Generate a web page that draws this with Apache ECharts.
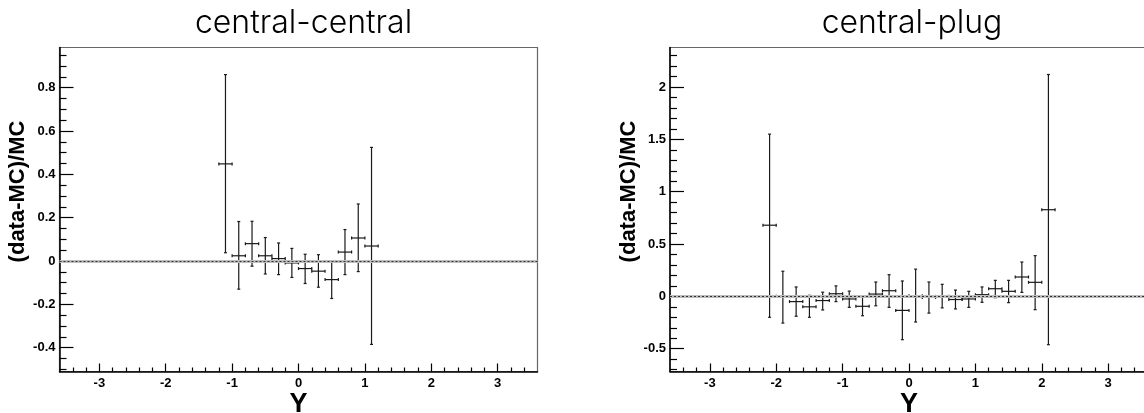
<!DOCTYPE html>
<html>
<head>
<meta charset="utf-8">
<script src="https://cdn.jsdelivr.net/npm/echarts@6/dist/echarts.min.js"></script>
<style>
  html, body { margin: 0; padding: 0; background: #fff; }
  #chart { width: 1144px; height: 413px; }
</style>
</head>
<body>
<div id="chart"></div>
<script>
// ---------- data ----------
const titles = ['central-central', 'central-plug'];
const xTitle = 'Y';
const yTitle = '(data-MC)/MC';
const binHalfWidth = 0.1;

// central-central
const ccX    = [-1.1, -0.9, -0.7, -0.5, -0.3, -0.1, 0.1, 0.3, 0.5, 0.7, 0.9, 1.1];
const ccY    = [0.448, 0.024, 0.080, 0.024, 0.011, -0.009, -0.035, -0.047, -0.086, 0.041, 0.106, 0.069];
const ccLow  = [0.038, -0.130, -0.024, -0.060, -0.063, -0.076, -0.104, -0.121, -0.173, -0.063, -0.049, -0.385];
const ccHigh = [0.860, 0.182, 0.183, 0.108, 0.083, 0.058, 0.031, 0.029, 0.000, 0.145, 0.263, 0.524];

// central-plug
const cpX    = [-2.1, -1.9, -1.7, -1.5, -1.3, -1.1, -0.9, -0.7, -0.5, -0.3, -0.1, 0.1, 0.3, 0.5, 0.7, 0.9, 1.1, 1.3, 1.5, 1.7, 1.9, 2.1];
const cpY    = [0.68, 0.00, -0.05, -0.10, -0.04, 0.025, -0.025, -0.095, 0.022, 0.054, -0.134, 0.006, -0.010, 0.000, -0.030, -0.025, 0.016, 0.073, 0.048, 0.185, 0.134, 0.828];
const cpLow  = [-0.20, -0.255, -0.19, -0.20, -0.13, -0.05, -0.105, -0.185, -0.09, -0.105, -0.414, -0.245, -0.16, -0.11, -0.12, -0.105, -0.057, -0.013, -0.06, 0.038, -0.127, -0.462];
const cpHigh = [1.55, 0.24, 0.09, 0.01, 0.04, 0.10, 0.05, -0.003, 0.137, 0.207, 0.147, 0.26, 0.137, 0.115, 0.06, 0.048, 0.09, 0.153, 0.153, 0.328, 0.389, 2.12];

// axes ranges and ticks
const xRange = [-3.6, 3.6];
const xMajor = [-3, -2, -1, 0, 1, 2, 3];
const xMinor = [-3.4, -3.2, -2.8, -2.6, -2.4, -2.2, -1.8, -1.6, -1.4, -1.2, -0.8, -0.6, -0.4, -0.2,
                0.2, 0.4, 0.6, 0.8, 1.2, 1.4, 1.6, 1.8, 2.2, 2.4, 2.6, 2.8, 3.2, 3.4];

const ccYRange = [-0.51, 0.985];
const ccYMajor = [-0.4, -0.2, 0, 0.2, 0.4, 0.6, 0.8];
const ccYMinor = [-0.5, -0.45, -0.35, -0.3, -0.25, -0.15, -0.1, -0.05, 0.05, 0.1, 0.15, 0.25, 0.3, 0.35,
                  0.45, 0.5, 0.55, 0.65, 0.7, 0.75, 0.85, 0.9, 0.95];

const cpYRange = [-0.718, 2.378];
const cpYMajor = [-0.5, 0, 0.5, 1, 1.5, 2];
const cpYMinor = [-0.7, -0.6, -0.4, -0.3, -0.2, -0.1, 0.1, 0.2, 0.3, 0.4, 0.6, 0.7, 0.8, 0.9,
                  1.1, 1.2, 1.3, 1.4, 1.6, 1.7, 1.8, 1.9, 2.1, 2.2, 2.3];

// ---------- chart ----------
const zip = (xs, ys, lo, hi) => xs.map((x, i) => [x, ys[i], lo[i], hi[i]]);

const INK = '#1a1a1a';
const labelFont = { fontFamily: 'Liberation Sans, Arial, sans-serif', fontWeight: 'bold', fontSize: 13, color: '#000' };

function renderItem(params, api) {
  const x = api.value(0), y = api.value(1), lo = api.value(2), hi = api.value(3);
  const pL = api.coord([x - binHalfWidth, y]);
  const pR = api.coord([x + binHalfWidth, y]);
  const pLo = api.coord([x, lo]);
  const pHi = api.coord([x, hi]);
  const cap = 1.5;
  const st = { stroke: INK, lineWidth: 1.2 };
  const L = (x1, y1, x2, y2) => ({ type: 'line', shape: { x1, y1, x2, y2 }, style: st });
  return {
    type: 'group',
    children: [
      L(pLo[0], pLo[1], pHi[0], pHi[1]),
      L(pL[0], pL[1], pR[0], pR[1]),
      L(pLo[0] - cap, pLo[1], pLo[0] + cap, pLo[1]),
      L(pHi[0] - cap, pHi[1], pHi[0] + cap, pHi[1]),
      L(pL[0], pL[1] - cap, pL[0], pL[1] + cap),
      L(pR[0], pR[1] - cap, pR[0], pR[1] + cap)
    ]
  };
}

const gridBase = { show: true, borderColor: '#666', borderWidth: 1.2, backgroundColor: 'transparent',
                   containLabel: false, outerBoundsMode: 'none' };
const grids = [
  Object.assign({ left: 59.5, top: 47.5, width: 478, height: 324 }, gridBase),
  Object.assign({ left: 670, top: 47.5, width: 478, height: 324 }, gridBase)
];

function xAxes(gi) {
  return [
    {
      type: 'value', gridIndex: gi, min: xRange[0], max: xRange[1], position: 'bottom',
      name: xTitle, nameLocation: 'middle', nameGap: 20, nameMoveOverlap: false,
      nameTextStyle: { fontFamily: 'Liberation Sans, Arial, sans-serif', fontWeight: 'bold', fontSize: 27, color: '#000' },
      axisLine: { show: true, onZero: false, lineStyle: { color: '#000', width: 1.5 } },
      axisTick: { show: true, inside: true, length: 8, customValues: xMajor, lineStyle: { color: '#000', width: 1.2 } },
      axisLabel: Object.assign({ show: true, margin: 5, customValues: xMajor, formatter: v => String(v) }, labelFont),
      splitLine: { show: false }
    },
    {
      type: 'value', gridIndex: gi, min: xRange[0], max: xRange[1], position: 'bottom',
      axisLine: { show: false, onZero: false },
      axisTick: { show: true, inside: true, length: 4, customValues: xMinor, lineStyle: { color: '#000', width: 1.2 } },
      axisLabel: { show: false },
      splitLine: { show: false }
    }
  ];
}

function yAxes(gi, range, major, minor) {
  return [
    {
      type: 'value', gridIndex: gi, min: range[0], max: range[1], position: 'left',
      name: yTitle, nameLocation: 'middle', nameGap: 28, nameRotate: 90,
      nameTextStyle: { fontFamily: 'Liberation Sans, Arial, sans-serif', fontWeight: 'bold', fontSize: 22, color: '#000', padding: [0, 0, 0, 36] },
      axisLine: { show: true, onZero: false, lineStyle: { color: '#000', width: 1.5 } },
      axisTick: { show: true, inside: true, length: 14, customValues: major, lineStyle: { color: '#000', width: 1.2 } },
      axisLabel: Object.assign({ show: true, margin: 4, customValues: major, formatter: v => String(v) }, labelFont),
      splitLine: { show: false }
    },
    {
      type: 'value', gridIndex: gi, min: range[0], max: range[1], position: 'left',
      axisLine: { show: false, onZero: false },
      axisTick: { show: true, inside: true, length: 7, customValues: minor, lineStyle: { color: '#000', width: 1.2 } },
      axisLabel: { show: false },
      splitLine: { show: false }
    }
  ];
}

const zeroLine = {
  silent: true, symbol: 'none', label: { show: false },
  data: [
    { yAxis: 0, lineStyle: { color: '#bdbdbd', width: 3, type: 'solid' } },
    { yAxis: 0, lineStyle: { color: '#333', width: 1, type: [2, 2] } }
  ]
};

const titleStyle = { fontFamily: 'Inter, Lato, sans-serif', fontWeight: 300, fontSize: 32, color: '#000' };

const option = {
  backgroundColor: '#fff',
  animation: false,
  title: [
    { text: titles[0], left: 298.5, top: 2, textAlign: 'center', textStyle: titleStyle },
    { text: titles[1], left: 907, top: 2, textAlign: 'center', textStyle: titleStyle }
  ],
  grid: grids,
  xAxis: [...xAxes(0), ...xAxes(1)],
  yAxis: [...yAxes(0, ccYRange, ccYMajor, ccYMinor), ...yAxes(1, cpYRange, cpYMajor, cpYMinor)],
  series: [
    {
      type: 'custom', xAxisIndex: 0, yAxisIndex: 0, renderItem,
      encode: { x: 0, y: [1, 2, 3] },
      data: zip(ccX, ccY, ccLow, ccHigh),
      markLine: zeroLine, z: 3
    },
    {
      type: 'custom', xAxisIndex: 2, yAxisIndex: 2, renderItem,
      encode: { x: 0, y: [1, 2, 3] },
      data: zip(cpX, cpY, cpLow, cpHigh),
      markLine: zeroLine, z: 3
    }
  ]
};

const chart = echarts.init(document.getElementById('chart'), null, { renderer: 'canvas' });
chart.setOption(option);
</script>
</body>
</html>
